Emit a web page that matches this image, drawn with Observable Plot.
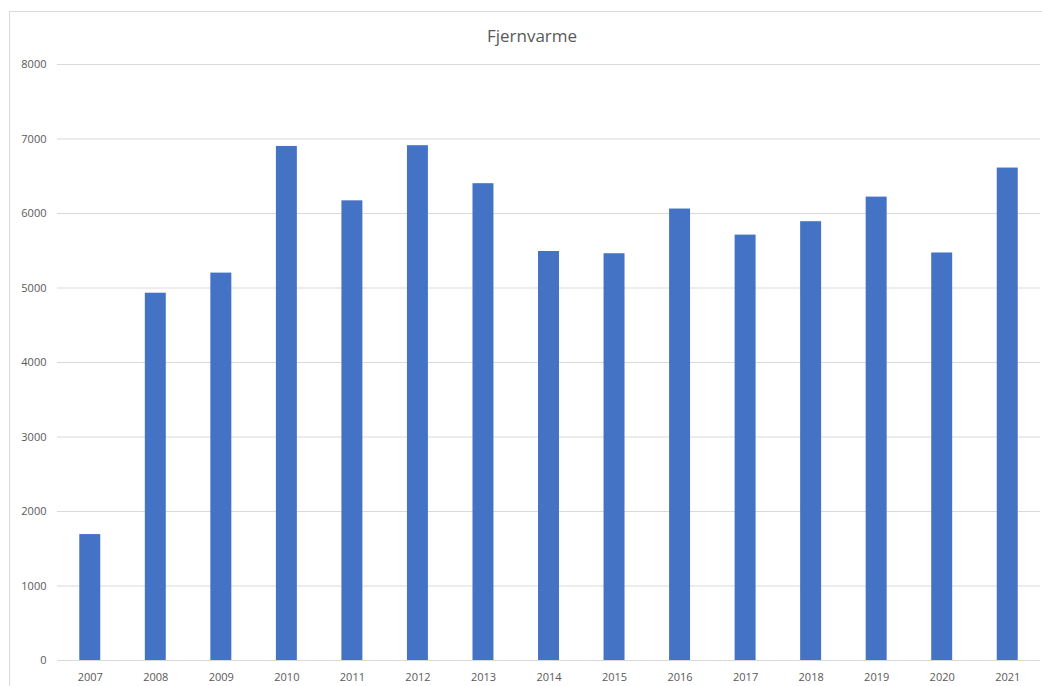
<!DOCTYPE html>
<html>
<head>
<meta charset="utf-8">
<script src="https://cdn.jsdelivr.net/npm/d3@7"></script>
<script src="https://cdn.jsdelivr.net/npm/@observablehq/plot@0.6"></script>
<style>
  html, body { margin: 0; padding: 0; background: #fff; overflow: hidden; }
  #frame { margin-left: 9px; margin-top: 11px; width: 1100px; height: 760px; border: 1px solid #d9d9d9; box-sizing: border-box; }
  #title { font-family: "Open Sans", sans-serif; font-size: 17px; line-height: 20px; height: 20px; padding-top: 14px; padding-bottom: 1px; color: #595959; text-align: center; width: 1032px; padding-left: 6px; box-sizing: content-box; }
  #chart svg { display: block; }
</style>
</head>
<body>
<div id="frame">
  <div id="title">Fjernvarme</div>
  <div id="chart"></div>
</div>
<script>
const years = ["2007","2008","2009","2010","2011","2012","2013","2014","2015","2016","2017","2018","2019","2020","2021"];
const values = [1690, 4930, 5200, 6900, 6170, 6910, 6400, 5490, 5460, 6060, 5710, 5890, 6220, 5470, 6610];
const yTicks = [0, 1000, 2000, 3000, 4000, 5000, 6000, 7000, 8000];

const data = years.map((y, i) => ({year: y, value: values[i]}));

const chart = Plot.plot({
  width: 1032,
  height: 639,
  marginLeft: 47,
  marginRight: 2,
  marginTop: 17,
  marginBottom: 26,
  style: {fontFamily: "'Open Sans', sans-serif", fontSize: "11px", color: "#595959", background: "transparent"},
  x: {domain: years, paddingInner: 0.68, paddingOuter: 0.34, round: false, label: null, tickSize: 0, tickPadding: 13},
  y: {domain: [0, 8000], ticks: yTicks, tickFormat: d => String(d), label: null, tickSize: 0, tickPadding: 11},
  marks: [
    Plot.ruleY(yTicks, {stroke: "#d9d9d9", strokeWidth: 1}),
    Plot.barY(data, {x: "year", y: "value", fill: "#4472c4"})
  ]
});
document.getElementById("chart").appendChild(chart);
</script>
</body>
</html>
